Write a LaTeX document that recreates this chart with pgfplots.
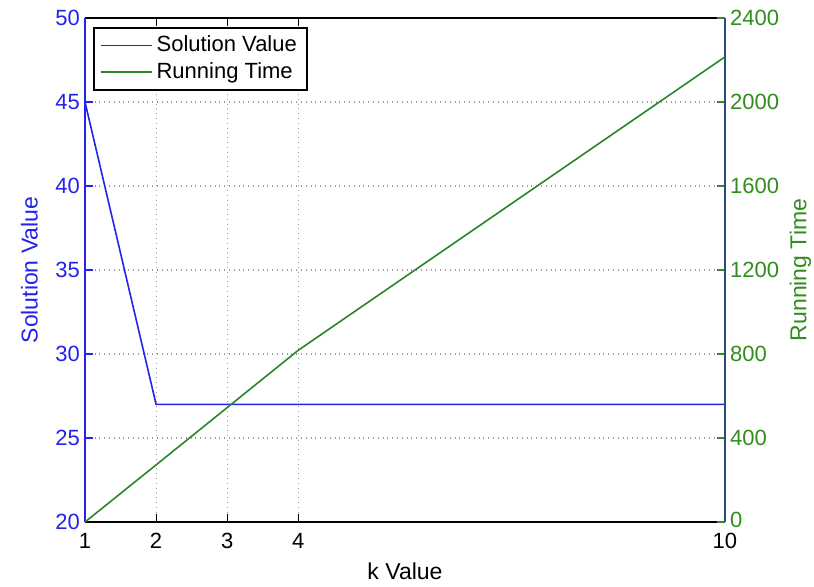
\documentclass[border=0pt]{standalone}
\usepackage{pgfplots}
\pgfplotsset{compat=1.18}
\usepackage{fontspec}
\setmainfont{Liberation Sans}
\definecolor{mblue}{RGB}{35,35,235}
\definecolor{mgreen}{RGB}{40,135,40}
\definecolor{rgreen}{RGB}{50,140,30}
\definecolor{rax}{RGB}{40,80,120}
\begin{document}
\begin{tikzpicture}
\useasboundingbox (-42.5pt,-32pt) rectangle (364.5pt,261pt);
\pgfplotsset{
  common/.style={
    scale only axis, width=320pt, height=252pt,
    xmin=1, xmax=10,
    tick align=inside,
    major tick length=4pt,
    /pgf/number format/assume math mode=true,
    /pgf/number format/set thousands separator={},
    tick label style={font=\fontsize{11}{13}\selectfont},
    label style={font=\fontsize{11.5}{13}\selectfont},
  }
}
\begin{axis}[
  common,
  ymin=20, ymax=50,
  xtick={1,2,3,4,10},
  ytick={20,25,...,50},
  ytick pos=left,
  separate axis lines,
  x axis line style={black, line width=1pt},
  y axis line style={mblue, line width=1pt},
  xtick style={black, line width=0.6pt},
  ytick style={mblue, line width=0.6pt},
  yticklabel style={text=mblue, xshift=1pt},
  xticklabel style={text=black, yshift=-2pt},
  grid=major,
  major grid style={dotted, gray!80, line width=0.6pt},
  xlabel={k Value},
  ylabel={Solution Value},
  ylabel style={text=mblue, yshift=2pt},
  xlabel style={yshift=0pt},
]
\addplot[mblue, line width=0.8pt] coordinates {(1,45) (2,27) (3,27) (4,27) (10,27)};
\end{axis}
\begin{axis}[
  common,
  ymin=0, ymax=2400,
  ytick={0,400,...,2400},
  yticklabels={\raisebox{2.5pt}{0},400,800,1200,1600,2000,2400},
  axis y line*=right,
  axis x line=none,
  y axis line style={rax, line width=1pt},
  ytick style={rgreen, line width=0.6pt},
  yticklabel style={text=rgreen, xshift=-1pt},
  ylabel={Running Time},
  ylabel style={text=rgreen, yshift=1.5pt},
  legend style={at={(axis description cs:0.0125,0.982)}, anchor=north west,
    font=\fontsize{11}{13}\selectfont, draw=black, line width=0.8pt,
    inner xsep=3pt, inner ysep=2pt, row sep=0pt},
  legend cell align=left,
  legend image code/.code={\draw[#1] (0cm,0cm) -- (0.9cm,0cm);},
]
\addlegendimage{color=mblue, line width=0.8pt}
\addlegendentry{Solution Value}
\addplot[mgreen, line width=0.8pt] coordinates {(1,0) (2,272) (3,545) (4,818) (10,2215)};
\addlegendentry{Running Time}
\end{axis}
\end{tikzpicture}
\end{document}
